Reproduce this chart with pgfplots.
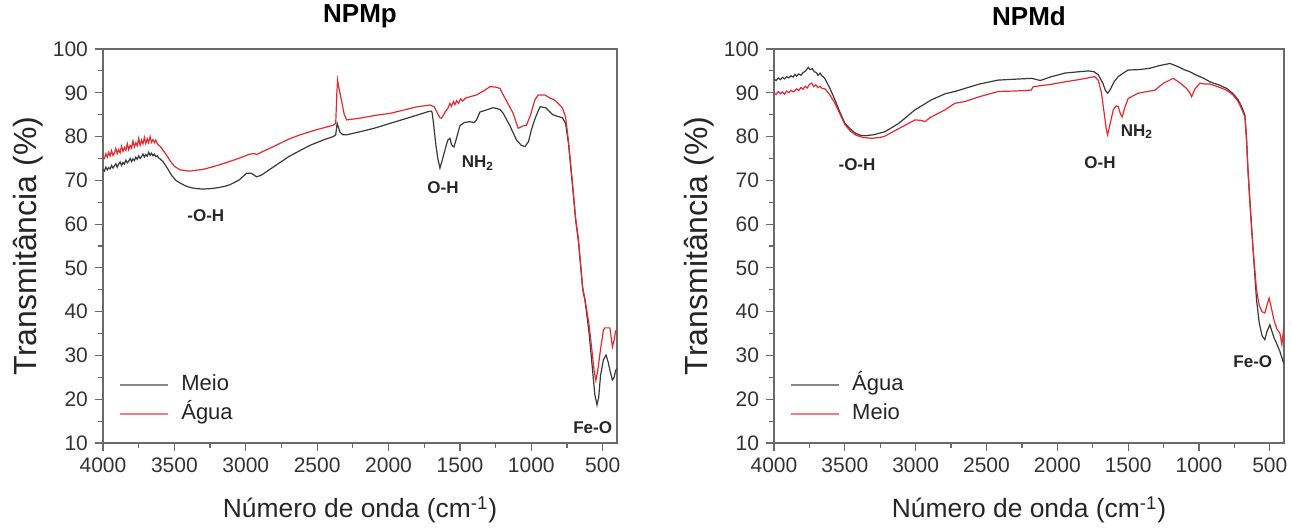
\documentclass[border=0pt]{standalone}
\usepackage{fontspec}
\setmainfont{Liberation Sans}
\usepackage{pgfplots}
\pgfplotsset{compat=1.18}
\definecolor{cblk}{HTML}{373B38}
\definecolor{cred}{HTML}{E8282E}
\definecolor{cax}{HTML}{6A6A6A}
\tikzset{ann/.style={font=\bfseries\fontsize{8.5}{10}\selectfont, text=black!85}}
\pgfplotsset{
 myax/.style={
  scale only axis, height=197pt,
  xmin=400, xmax=4000, ymin=10, ymax=100, x dir=reverse,
  xtick={500,1000,...,4000}, ytick={10,20,...,100},
  minor x tick num=1, minor y tick num=1,
  tick align=outside, xtick pos=bottom, ytick pos=left,
  major tick length=4pt, minor tick length=2.5pt,
  axis line style={cax, line width=0.6pt},
  every tick/.style={cax, line width=0.6pt},
  tick label style={font=\fontsize{10.5}{12}\selectfont, text=black!80},
  /pgf/number format/assume math mode=true,
  /pgf/number format/1000 sep={},
  xlabel={Número de onda (cm\textsuperscript{-1})},
  ylabel={Transmitância (\%)},
  xlabel style={font=\fontsize{13.2}{15}\selectfont, text=black!85, at={(axis description cs:0.5,-0.170)}, anchor=center},
  ylabel style={font=\fontsize{16}{18}\selectfont, text=black!85, at={(axis description cs:-0.146,0.5)}, anchor=center},
  title style={font=\bfseries\fontsize{13}{15}\selectfont, at={(axis description cs:0.5,1.053)}, anchor=center},
  legend style={draw=none, fill=none, font=\fontsize{11}{13}\selectfont, text=black!85,
     anchor=south west, at={(axis description cs:0.031,0.037)}, inner sep=0pt, row sep=0pt, column sep=4pt,
     nodes={inner sep=2pt, text height=8pt, text depth=2.5pt}},
  legend cell align=left,
  legend image code/.code={\draw[#1, line width=1pt, opacity=0.6] (0pt,0pt) -- (24pt,0pt);},
  every axis plot/.append style={line width=0.6pt},
 }
}
\begin{document}
\begin{tikzpicture}
\useasboundingbox (-51.5pt,-42pt) rectangle (594.5pt,221.5pt);
% ---------------- NPMp ----------------
\begin{axis}[myax, width=257pt, at={(0pt,0pt)}, anchor=south west, title={NPMp}]
\addplot[cblk] coordinates {
(4000,72.5)(3990,72.1)(3980,73.0)(3970,72.4)(3960,72.9)(3950,72.6)(3940,73.4)(3930,72.8)(3920,73.3)
(3910,73.8)(3900,73.0)(3890,73.7)(3880,74.2)(3870,73.4)(3860,74.1)(3850,73.7)(3840,74.6)(3830,74.0)
(3820,74.4)(3810,75.0)(3800,74.3)(3790,74.9)(3780,74.5)(3770,75.3)(3760,74.8)(3750,75.6)(3740,75.0)
(3730,75.4)(3720,76.0)(3710,75.3)(3700,75.9)(3690,75.5)(3680,76.4)(3670,75.7)(3660,76.2)(3650,75.6)
(3640,76.0)(3630,75.4)(3620,75.6)(3610,75.1)(3600,74.9)(3580,74.3)(3550,72.8)(3520,71.2)(3490,70.0)
(3460,69.4)(3420,68.7)(3380,68.3)(3340,68.1)(3300,68.0)(3250,68.1)(3200,68.3)(3150,68.6)(3111,69.0)
(3050,70.0)(2994,71.6)(2960,71.6)(2924,70.8)(2890,71.2)(2854,72.0)(2800,73.2)(2750,74.3)(2700,75.4)
(2620,76.8)(2550,78.0)(2450,79.3)(2387,80.0)(2370,80.4)(2360,83.0)(2350,82.0)(2340,81.0)(2320,80.4)
(2293,80.4)(2200,81.1)(2100,81.9)(1990,83.0)(1900,83.9)(1800,84.9)(1722,85.7)(1700,85.8)(1695,85.5)
(1685,83.0)(1670,78.5)(1655,75.0)(1640,72.8)(1625,74.5)(1605,76.9)(1585,79.2)(1570,79.6)(1558,78.1)
(1542,77.6)(1525,79.5)(1500,82.5)(1470,83.2)(1430,83.4)(1400,83.2)(1384,83.8)(1360,85.6)(1313,86.1)
(1267,86.6)(1220,86.2)(1197,85.3)(1150,82.5)(1104,79.2)(1070,78.0)(1045,77.7)(1020,78.8)(1000,81.5)
(975,84.0)(950,86.0)(938,86.8)(900,86.6)(850,85.0)(825,84.7)(782,84.3)(760,83.0)(740,78.5)(712,69.0)
(690,61.0)(670,56.0)(655,50.5)(640,45.0)(625,42.7)(610,39.0)(595,35.0)(575,28.0)(555,21.0)(540,18.7)
(528,20.5)(515,25.5)(495,29.0)(477,30.1)(462,28.5)(445,26.0)(432,24.4)(420,25.0)(410,26.5)(400,27.0)};
\addlegendentry{Meio}
\addplot[cred] coordinates {
(4000,75.4)(3990,75.0)(3980,76.1)(3970,75.3)(3960,76.4)(3950,75.6)(3940,76.8)(3930,75.7)(3920,76.2)
(3910,77.3)(3900,76.1)(3890,77.0)(3880,76.3)(3870,77.8)(3860,76.6)(3850,77.5)(3840,76.9)(3830,78.4)
(3820,77.0)(3810,78.0)(3800,77.4)(3790,79.0)(3780,77.6)(3770,78.6)(3760,77.9)(3750,79.6)(3740,78.0)
(3730,79.2)(3720,78.3)(3710,79.8)(3700,78.4)(3690,79.5)(3680,78.6)(3670,80.0)(3660,78.7)(3650,79.3)
(3640,78.6)(3630,79.2)(3620,78.4)(3610,78.0)(3600,77.8)(3589,77.3)(3560,76.0)(3530,74.5)(3500,73.2)
(3460,72.4)(3420,72.2)(3391,72.1)(3350,72.3)(3300,72.5)(3230,73.1)(3150,73.9)(3050,75.0)(2971,76.0)
(2940,76.1)(2924,75.9)(2880,76.6)(2800,77.8)(2700,79.4)(2620,80.4)(2500,81.6)(2387,82.6)(2370,83.0)
(2362,90.0)(2357,92.9)(2350,91.5)(2340,89.9)(2325,87.5)(2310,85.0)(2293,83.8)(2200,84.2)(2100,84.8)
(1990,85.3)(1900,86.0)(1800,86.8)(1710,87.2)(1680,86.8)(1660,85.5)(1640,84.3)(1628,84.2)(1600,85.8)
(1585,86.4)(1570,87.6)(1560,86.9)(1545,88.0)(1535,87.3)(1523,88.2)(1510,87.6)(1495,88.6)(1480,88.1)
(1460,88.8)(1430,89.1)(1384,89.5)(1330,90.5)(1290,91.4)(1250,91.3)(1220,91.0)(1180,88.5)(1127,85.3)
(1092,81.9)(1060,82.4)(1034,82.6)(1005,85.0)(975,88.4)(952,89.5)(905,89.5)(870,88.8)(839,88.4)
(800,87.2)(782,86.5)(760,84.5)(740,79.0)(712,69.5)(690,61.5)(670,56.5)(655,51.0)(640,45.5)(625,43.0)
(610,40.0)(595,36.8)(575,31.0)(560,26.5)(548,24.3)(535,26.5)(515,31.5)(495,35.8)(485,36.3)(450,36.3)
(440,34.0)(432,32.0)(420,33.5)(410,35.5)(400,36.0)};
\addlegendentry{Água}
\node[ann] at (axis cs:3280,62) {-O-H};
\node[ann] at (axis cs:1619,68.3) {O-H};
\node[ann] at (axis cs:1374,74.0) {NH\textsubscript{2}};
\node[ann] at (axis cs:570,13.5) {Fe-O};
\end{axis}
% ---------------- NPMd ----------------
\begin{axis}[myax, width=255pt, at={(335.5pt,0pt)}, anchor=south west, title={NPMd}]
\addplot[cblk] coordinates {
(4000,93.1)(3985,92.8)(3970,93.4)(3955,93.0)(3940,93.5)(3925,93.2)(3910,93.7)(3895,93.4)(3880,93.9)
(3865,93.6)(3852,94.2)(3840,93.8)(3825,94.3)(3810,94.0)(3795,94.6)(3780,94.9)(3770,95.3)(3758,95.8)
(3745,95.3)(3730,95.5)(3715,94.8)(3700,94.6)(3690,94.0)(3675,94.5)(3663,93.9)(3650,93.6)(3640,93.2)
(3605,91.0)(3570,88.4)(3535,85.6)(3499,83.0)(3460,81.7)(3428,80.8)(3390,80.3)(3358,80.2)(3300,80.4)
(3217,81.1)(3120,83.0)(3005,86.1)(2888,88.4)(2790,89.8)(2723,90.3)(2652,91.0)(2550,92.0)(2417,92.9)
(2300,93.1)(2181,93.3)(2120,92.8)(2050,93.6)(1946,94.5)(1850,94.8)(1781,95.0)(1740,94.8)(1711,94.1)
(1680,92.3)(1660,90.5)(1645,89.9)(1625,90.8)(1600,92.5)(1570,93.7)(1530,94.6)(1500,95.2)(1420,95.3)
(1347,95.6)(1280,96.2)(1205,96.7)(1150,96.0)(1100,95.2)(1064,94.8)(1030,94.2)(994,93.7)(960,93.2)
(923,92.5)(860,91.8)(805,91.0)(760,89.8)(723,88.4)(695,86.5)(676,84.9)(665,80.0)(655,73.0)(641,65.5)
(620,55.0)(594,42.7)(575,37.5)(555,34.5)(535,33.6)(520,35.5)(500,37.0)(485,35.5)(470,34.0)(453,32.8)
(430,31.0)(410,29.0)(400,28.0)};
\addlegendentry{Água}
\addplot[cred] coordinates {
(4000,89.9)(3985,89.6)(3970,90.3)(3955,89.8)(3940,90.2)(3925,89.7)(3910,90.4)(3895,90.0)(3880,90.6)
(3865,90.2)(3852,90.5)(3840,90.9)(3825,90.5)(3810,91.2)(3795,90.8)(3780,91.5)(3765,91.1)(3750,91.9)
(3734,92.2)(3720,91.4)(3705,91.8)(3690,91.2)(3675,91.5)(3660,91.0)(3640,90.9)(3605,89.5)(3570,87.6)
(3535,85.2)(3499,82.7)(3460,81.2)(3420,80.3)(3370,79.8)(3310,79.6)(3250,79.8)(3217,80.1)(3120,81.8)
(3005,83.8)(2960,83.7)(2934,83.4)(2900,84.3)(2793,86.1)(2723,87.6)(2652,88.0)(2550,89.1)(2417,90.3)
(2300,90.4)(2185,90.6)(2170,91.4)(2050,91.9)(1946,92.5)(1850,93.0)(1735,93.7)(1710,92.8)(1688,89.9)
(1670,85.5)(1655,81.8)(1645,80.4)(1630,82.5)(1605,86.1)(1585,87.0)(1570,86.9)(1555,85.2)(1542,84.5)
(1525,86.5)(1500,88.7)(1430,89.9)(1311,90.6)(1250,92.2)(1182,93.3)(1140,92.4)(1088,91.0)(1065,90.0)
(1052,89.1)(1030,90.8)(994,92.2)(960,92.0)(923,92.0)(860,91.3)(805,90.6)(760,89.5)(723,88.0)(695,86.0)
(676,84.5)(665,79.5)(655,72.5)(641,65.0)(620,55.0)(594,45.0)(575,41.5)(555,40.0)(535,39.7)(520,41.5)
(505,43.1)(490,41.0)(470,38.0)(450,36.0)(429,35.1)(415,32.5)(408,34.5)(400,36.5)};
\addlegendentry{Meio}
\node[ann] at (axis cs:3414,73.5) {-O-H};
\node[ann] at (axis cs:1699,74.0) {O-H};
\node[ann] at (axis cs:1438,81.1) {NH\textsubscript{2}};
\node[ann] at (axis cs:620,28.5) {Fe-O};
\end{axis}
\end{tikzpicture}
\end{document}
